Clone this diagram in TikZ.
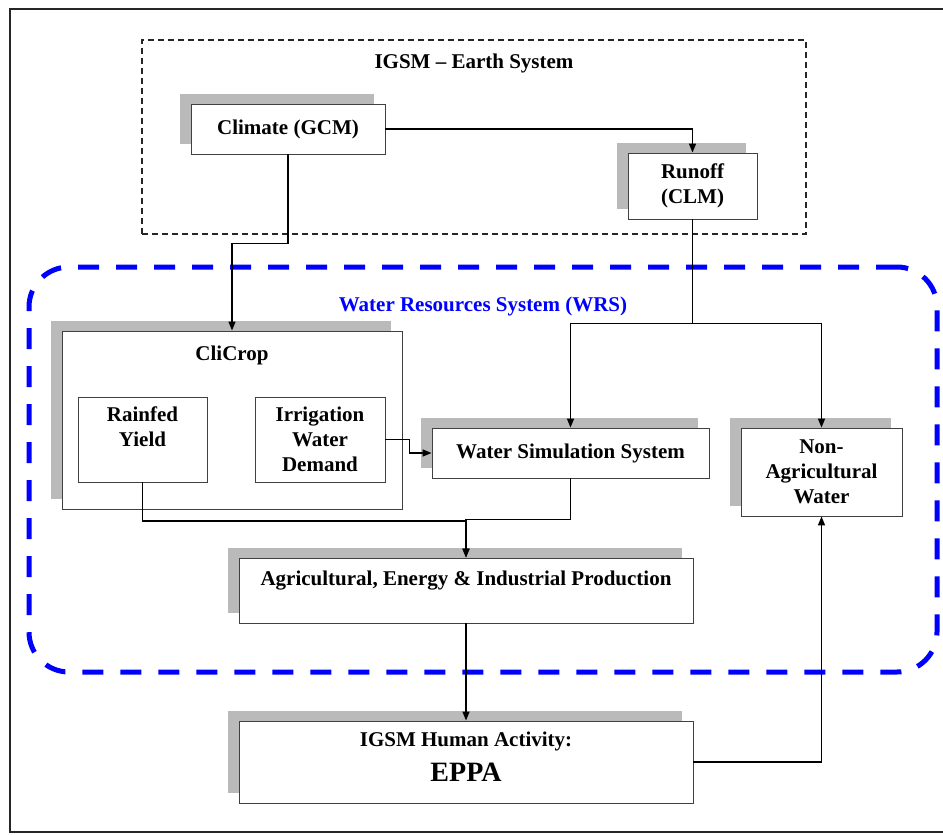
\documentclass[tikz,border=0pt]{standalone}
\usepackage{fontspec}
\setmainfont{Liberation Serif}
\usetikzlibrary{arrows.meta,shadows,calc}
\newcommand\boxfont{\fontsize{21}{25}\selectfont\bfseries}
\begin{document}
\begin{tikzpicture}[x=1pt,y=-1pt,
  box/.style={draw=black!75, line width=0.9pt, fill=white, align=center, inner sep=0pt, font=\boxfont},
  shbox/.style={box, general shadow={fill=black!27, shadow xshift=-11pt, shadow yshift=10pt}},
  txt/.style={align=center, inner sep=0pt, font=\boxfont},
  conn/.style={draw=black, line width=1.4pt},
  arr/.style={conn, -{Triangle[length=9pt,width=7pt]}}
]
\useasboundingbox (0,0) rectangle (943,835);
\fill[white] (0,0) rectangle (943,835);
% outer frame
\draw[line width=2.6pt, black!85] (943,9) -- (10,9) -- (10,832) -- (943,832);

% Earth system dashed box
\node[draw=black!85, line width=1.3pt, dash pattern=on 6pt off 4pt, minimum width=664, minimum height=194, inner sep=0pt] (earth) at (474,137) {};
\node[txt] (earthlbl) at (474,63) {IGSM – Earth System};

% WRS blue dashed box
\node[draw=blue, line width=5pt, dash pattern=on 21pt off 17pt, rounded corners=40pt, minimum width=908, minimum height=405, inner sep=0pt] (wrs) at (483,469.5) {};
\node[txt, text=blue] (wrslbl) at (483,306) {Water Resources System (WRS)};

% boxes
\node[shbox, minimum width=194, minimum height=50] (climate) at (288,129) {Climate (GCM)};
\node[shbox, minimum width=129, minimum height=66] (runoff) at (692.5,186) {Runoff\\(CLM)};
\node[shbox, minimum width=340, minimum height=178] (clicrop) at (232,420) {};
\node[txt] (clicroplbl) at (232,355) {CliCrop};
\node[box, minimum width=129, minimum height=85] (rainfed) at (142.5,439.5) {Rainfed\\Yield\\\mbox{}};
\node[box, minimum width=130, minimum height=85] (irrig) at (320,439.5) {Irrigation\\Water\\Demand};
\node[shbox, minimum width=277, minimum height=50] (wss) at (570.5,453) {Water Simulation System};
\node[shbox, minimum width=161, minimum height=88] (nonag) at (821.5,472) {Non-\\Agricultural\\Water};
\node[shbox, minimum width=454, minimum height=65] (aeip) at (466,590.5) {};
\node[txt] (aeiplbl) at (466,581) {Agricultural, Energy \& Industrial Production};
\node[shbox, minimum width=454, minimum height=82] (eppa) at (466,762) {};
\node[txt] (eppalbl1) at (466,741) {IGSM Human Activity:};
\node[txt, font=\fontsize{28}{30}\selectfont\bfseries] (eppalbl2) at (466,772) {EPPA};

% connectors
\draw[arr] (climate.east) -| (runoff.north);
\draw[arr] (climate.south) -- ++(0,89) -| (clicrop.north);
\coordinate (br) at ($(runoff.south)+(0,104)$);
\draw[conn] (runoff.south) -- (br);
\draw[arr] (br) -| (wss.north);
\draw[arr] (br) -| (nonag.north);
\draw[arr] (irrig.east) -- ++(24,0) |- (wss.west);
\draw[arr] (rainfed.south) -- ++(0,38.5) -| (aeip.north);
\draw[arr] (wss.south) -- ++(0,41) -| (aeip.north);
\draw[arr] (aeip.south) -- (eppa.north);
\draw[arr] (eppa.east) -| (nonag.south);
\end{tikzpicture}
\end{document}
